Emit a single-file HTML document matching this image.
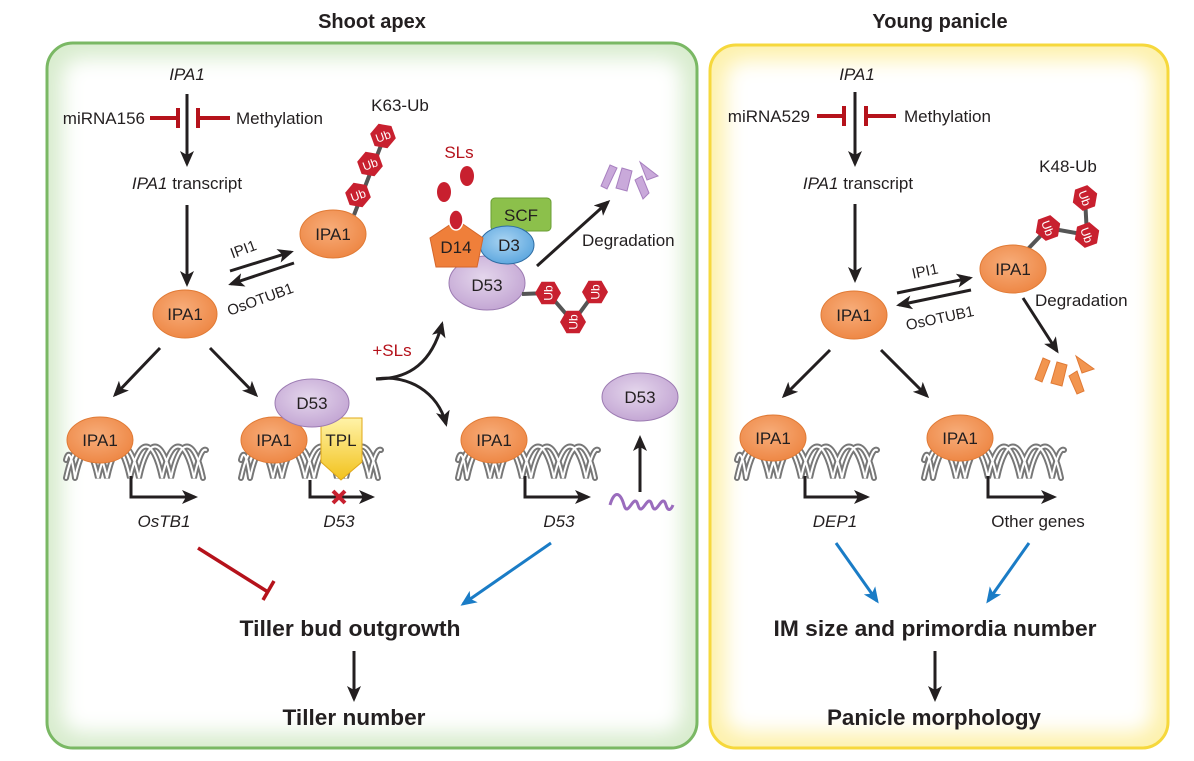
<!DOCTYPE html>
<html><head><meta charset="utf-8"><style>
html,body{margin:0;padding:0;background:#fff;}
svg{display:block;font-family:"Liberation Sans",sans-serif;}
.b{font-weight:bold;}
</style></head><body>
<svg width="1194" height="761" viewBox="0 0 1194 761" xmlns="http://www.w3.org/2000/svg">
<defs>
<filter id="bl" x="-20%" y="-20%" width="140%" height="140%"><feGaussianBlur stdDeviation="10"/></filter>
<clipPath id="cl"><rect x="47" y="43" width="650" height="705" rx="26"/></clipPath>
<clipPath id="cr"><rect x="710" y="45" width="458" height="703" rx="26"/></clipPath>
<radialGradient id="og" cx="45%" cy="40%" r="60%"><stop offset="0%" stop-color="#f7ad7a"/><stop offset="100%" stop-color="#ee8846"/></radialGradient>
<radialGradient id="pg" cx="45%" cy="40%" r="60%"><stop offset="0%" stop-color="#e4d6ec"/><stop offset="100%" stop-color="#c4a7d4"/></radialGradient>
<radialGradient id="bg" cx="45%" cy="40%" r="60%"><stop offset="0%" stop-color="#a9d4f2"/><stop offset="100%" stop-color="#5fa8df"/></radialGradient>
<linearGradient id="tg" x1="0" y1="0" x2="0" y2="1"><stop offset="0" stop-color="#fff3a8"/><stop offset="1" stop-color="#f2c21c"/></linearGradient>
<marker id="ak" markerWidth="16" markerHeight="14" refX="13" refY="7" orient="auto" markerUnits="userSpaceOnUse"><path d="M0,0 L16,7 L0,14 L4,7 Z" fill="#231f20"/></marker>
<marker id="ab" markerWidth="16" markerHeight="14" refX="13" refY="7" orient="auto" markerUnits="userSpaceOnUse"><path d="M0,0 L16,7 L0,14 L4,7 Z" fill="#1a7cc6"/></marker>
<g id="helix" fill="none" stroke-linecap="round">
<g stroke="#777" stroke-width="6">
<path d="M0,18 C9,-24 23,-24 32,18 C41,-24 55,-24 64,18 C73,-24 87,-24 96,18 C105,-24 119,-24 128,18 C133,-5 137,-12 140,-10"/>
<path d="M9,18 C18,-24 32,-24 41,18 C50,-24 64,-24 73,18 C82,-24 96,-24 105,18 C114,-24 128,-24 137,18 M0,0 C2,-8 5,-10 9,18"/>
</g>
<g stroke="#fff" stroke-width="2">
<path d="M0,18 C9,-24 23,-24 32,18 C41,-24 55,-24 64,18 C73,-24 87,-24 96,18 C105,-24 119,-24 128,18 C133,-5 137,-12 140,-10"/>
<path d="M9,18 C18,-24 32,-24 41,18 C50,-24 64,-24 73,18 C82,-24 96,-24 105,18 C114,-24 128,-24 137,18 M0,0 C2,-8 5,-10 9,18"/>
</g>
</g>
<g id="ub"><polygon points="0,-13 11.3,-6.5 11.3,6.5 0,13 -11.3,6.5 -11.3,-6.5" fill="#c8202f"/><text x="0" y="4.5" font-size="12" fill="#fff" text-anchor="middle">Ub</text></g>
</defs>

<text x="372" y="28" class="b" font-size="20" text-anchor="middle" fill="#231f20">Shoot apex</text>
<text x="940" y="28" class="b" font-size="20" text-anchor="middle" fill="#231f20">Young panicle</text>

<g clip-path="url(#cl)">
<rect x="47" y="43" width="650" height="705" fill="#d8ecce"/>
<rect x="62" y="58" width="620" height="675" rx="20" fill="#fff" filter="url(#bl)"/>
</g>
<rect x="47" y="43" width="650" height="705" rx="26" fill="none" stroke="#7ab864" stroke-width="3"/>
<g clip-path="url(#cr)">
<rect x="710" y="45" width="458" height="703" fill="#fdf1ad"/>
<rect x="725" y="60" width="428" height="673" rx="20" fill="#fff" filter="url(#bl)"/>
</g>
<rect x="710" y="45" width="458" height="703" rx="26" fill="none" stroke="#f6d83c" stroke-width="3"/>

<g fill="#231f20" font-size="17">
<text x="187" y="80" font-style="italic" text-anchor="middle">IPA1</text>
<line x1="187" y1="94" x2="187" y2="164" stroke="#231f20" stroke-width="3" marker-end="url(#ak)"/>
<text x="145" y="124" text-anchor="end">miRNA156</text>
<g stroke="#b5121b" stroke-width="4"><line x1="150" y1="118" x2="178" y2="118"/><line x1="178" y1="108" x2="178" y2="128"/><line x1="198" y1="118" x2="230" y2="118"/><line x1="198" y1="108" x2="198" y2="128"/></g>
<text x="236" y="124">Methylation</text>
<text x="187" y="189" text-anchor="middle"><tspan font-style="italic">IPA1</tspan> transcript</text>
<line x1="187" y1="205" x2="187" y2="284" stroke="#231f20" stroke-width="3" marker-end="url(#ak)"/>
<ellipse cx="185" cy="314" rx="32" ry="24" fill="url(#og)" stroke="#e07a35"/>
<text x="185" y="320" text-anchor="middle">IPA1</text>

<text x="400" y="111" text-anchor="middle">K63-Ub</text>
<line x1="354" y1="215" x2="385" y2="135" stroke="#555" stroke-width="4"/>
<use href="#ub" transform="translate(383,136) rotate(-20)"/>
<use href="#ub" transform="translate(370,164) rotate(-20)"/>
<use href="#ub" transform="translate(358,195) rotate(-20)"/>
<ellipse cx="333" cy="234" rx="33" ry="24" fill="url(#og)" stroke="#e07a35"/>
<text x="333" y="240" text-anchor="middle">IPA1</text>
<line x1="230" y1="271" x2="291" y2="252" stroke="#231f20" stroke-width="3" marker-end="url(#ak)"/>
<line x1="294" y1="263" x2="231" y2="284" stroke="#231f20" stroke-width="3" marker-end="url(#ak)"/>
<text x="245" y="254" font-size="15" transform="rotate(-20 245 254)" text-anchor="middle">IPI1</text>
<text x="262" y="304" font-size="15" transform="rotate(-20 262 304)" text-anchor="middle">OsOTUB1</text>

<text x="459" y="158" fill="#b5121b" text-anchor="middle">SLs</text>
<ellipse cx="467" cy="176" rx="7" ry="10" fill="#c8202f"/>
<ellipse cx="444" cy="192" rx="7" ry="10" fill="#c8202f"/>
<rect x="491" y="198" width="60" height="33" rx="4" fill="#8cc04b" stroke="#6a9e34"/>
<text x="521" y="221" text-anchor="middle">SCF</text>
<ellipse cx="487" cy="283" rx="38" ry="27" fill="url(#pg)" stroke="#9c7bb2"/>
<text x="487" y="291" text-anchor="middle">D53</text>
<ellipse cx="507" cy="245" rx="27" ry="19" fill="url(#bg)" stroke="#2f6da3"/>
<text x="509" y="251" text-anchor="middle">D3</text>
<polygon points="457,220 483,238 477,267 436,267 430,238" fill="#ef7f3a" stroke="#d5662a"/>
<ellipse cx="456" cy="220" rx="7" ry="10" fill="#c8202f" stroke="#fff" stroke-width="1.5"/>
<text x="456" y="253" text-anchor="middle">D14</text>
<line x1="537" y1="266" x2="608" y2="202" stroke="#231f20" stroke-width="3" marker-end="url(#ak)"/>
<text x="582" y="246">Degradation</text>
<g fill="#c9a9da" stroke="#a880c0" stroke-width="1">
<polygon points="610,165 617,168 607,189 601,186"/>
<polygon points="622,168 632,171 627,191 616,188"/>
<polygon points="635,180 642,176 649,193 643,199"/>
<polygon points="640,162 658,176 647,180"/>
</g>
<line x1="522" y1="294" x2="548" y2="293" stroke="#555" stroke-width="4"/>
<polyline points="548,293 573,322 595,292" fill="none" stroke="#555" stroke-width="4"/>
<use href="#ub" transform="translate(548,293) rotate(-90)"/>
<use href="#ub" transform="translate(573,322) rotate(-90)"/>
<use href="#ub" transform="translate(595,292) rotate(-90)"/>

<text x="392" y="356" fill="#b5121b" text-anchor="middle">+SLs</text>
<path d="M376,379 C410,379 432,362 442,324" fill="none" stroke="#231f20" stroke-width="3" marker-end="url(#ak)"/>
<path d="M376,379 C408,374 438,392 446,424" fill="none" stroke="#231f20" stroke-width="3" marker-end="url(#ak)"/>

<line x1="160" y1="348" x2="115" y2="395" stroke="#231f20" stroke-width="3" marker-end="url(#ak)"/>
<line x1="210" y1="348" x2="256" y2="395" stroke="#231f20" stroke-width="3" marker-end="url(#ak)"/>

<use href="#helix" transform="translate(66,460)"/>
<ellipse cx="100" cy="440" rx="33" ry="23" fill="url(#og)" stroke="#e07a35"/>
<text x="100" y="446" text-anchor="middle">IPA1</text>
<polyline points="131,476 131,497 195,497" fill="none" stroke="#231f20" stroke-width="3" marker-end="url(#ak)"/>
<text x="164" y="527" font-style="italic" text-anchor="middle">OsTB1</text>

<use href="#helix" transform="translate(241,460)"/>
<ellipse cx="274" cy="440" rx="33" ry="23" fill="url(#og)" stroke="#e07a35"/>
<text x="274" y="446" text-anchor="middle">IPA1</text>
<polygon points="321,418 362,418 362,462 341,480 321,462" fill="url(#tg)" stroke="#e0a81a"/>
<text x="341" y="446" text-anchor="middle">TPL</text>
<ellipse cx="312" cy="403" rx="37" ry="24" fill="url(#pg)" stroke="#9c7bb2"/>
<text x="312" y="409" text-anchor="middle">D53</text>
<polyline points="310,480 310,497 372,497" fill="none" stroke="#231f20" stroke-width="3" marker-end="url(#ak)"/>
<g stroke="#c8202f" stroke-width="4"><line x1="333" y1="491" x2="345" y2="503"/><line x1="345" y1="491" x2="333" y2="503"/></g>
<text x="339" y="527" font-style="italic" text-anchor="middle">D53</text>

<use href="#helix" transform="translate(458,460)"/>
<ellipse cx="494" cy="440" rx="33" ry="23" fill="url(#og)" stroke="#e07a35"/>
<text x="494" y="446" text-anchor="middle">IPA1</text>
<polyline points="525,476 525,497 588,497" fill="none" stroke="#231f20" stroke-width="3" marker-end="url(#ak)"/>
<text x="559" y="527" font-style="italic" text-anchor="middle">D53</text>
<ellipse cx="640" cy="397" rx="38" ry="24" fill="url(#pg)" stroke="#9c7bb2"/>
<text x="640" y="403" text-anchor="middle">D53</text>
<line x1="640" y1="492" x2="640" y2="438" stroke="#231f20" stroke-width="3" marker-end="url(#ak)"/>
<path d="M610,505 C614,491 620,491 624,505 C628,519 634,491 638,505 C642,519 648,491 652,505 C656,519 662,491 666,505 C668,512 671,510 673,505" fill="none" stroke="#9a6cbd" stroke-width="3"/>

<line x1="198" y1="548" x2="268" y2="592" stroke="#b5121b" stroke-width="3.5"/>
<line x1="263" y1="600" x2="274" y2="581" stroke="#b5121b" stroke-width="3.5"/>
<line x1="551" y1="543" x2="463" y2="604" stroke="#1a7cc6" stroke-width="3" marker-end="url(#ab)"/>
<text x="350" y="636" class="b" font-size="22" text-anchor="middle" textLength="221" lengthAdjust="spacingAndGlyphs">Tiller bud outgrowth</text>
<line x1="354" y1="651" x2="354" y2="699" stroke="#231f20" stroke-width="3" marker-end="url(#ak)"/>
<text x="354" y="725" class="b" font-size="22" text-anchor="middle" textLength="143" lengthAdjust="spacingAndGlyphs">Tiller number</text>

<text x="857" y="80" font-style="italic" text-anchor="middle">IPA1</text>
<line x1="855" y1="92" x2="855" y2="164" stroke="#231f20" stroke-width="3" marker-end="url(#ak)"/>
<text x="810" y="122" text-anchor="end">miRNA529</text>
<g stroke="#b5121b" stroke-width="4"><line x1="817" y1="116" x2="844" y2="116"/><line x1="844" y1="106" x2="844" y2="126"/><line x1="866" y1="116" x2="896" y2="116"/><line x1="866" y1="106" x2="866" y2="126"/></g>
<text x="904" y="122">Methylation</text>
<text x="858" y="189" text-anchor="middle"><tspan font-style="italic">IPA1</tspan> transcript</text>
<line x1="855" y1="204" x2="855" y2="280" stroke="#231f20" stroke-width="3" marker-end="url(#ak)"/>
<ellipse cx="854" cy="315" rx="33" ry="24" fill="url(#og)" stroke="#e07a35"/>
<text x="854" y="321" text-anchor="middle">IPA1</text>
<line x1="897" y1="293" x2="970" y2="278" stroke="#231f20" stroke-width="3" marker-end="url(#ak)"/>
<line x1="971" y1="290" x2="899" y2="305" stroke="#231f20" stroke-width="3" marker-end="url(#ak)"/>
<text x="926" y="276" font-size="15" transform="rotate(-12 926 276)" text-anchor="middle">IPI1</text>
<text x="941" y="323" font-size="15" transform="rotate(-12 941 323)" text-anchor="middle">OsOTUB1</text>
<text x="1068" y="172" text-anchor="middle">K48-Ub</text>
<polyline points="1027,250 1048,228 1087,235 1085,198" fill="none" stroke="#555" stroke-width="4"/>
<use href="#ub" transform="translate(1048,228) rotate(70)"/>
<use href="#ub" transform="translate(1087,235) rotate(70)"/>
<use href="#ub" transform="translate(1085,198) rotate(70)"/>
<ellipse cx="1013" cy="269" rx="33" ry="24" fill="url(#og)" stroke="#e07a35"/>
<text x="1013" y="275" text-anchor="middle">IPA1</text>
<text x="1035" y="306">Degradation</text>
<line x1="1023" y1="298" x2="1057" y2="351" stroke="#231f20" stroke-width="3" marker-end="url(#ak)"/>
<g fill="#f2954f" stroke="#e07a35">
<polygon points="1043,358 1050,361 1042,382 1035,379"/>
<polygon points="1057,362 1067,365 1062,386 1051,383"/>
<polygon points="1069,376 1077,371 1084,391 1077,394"/>
<polygon points="1076,356 1094,369 1082,373"/>
</g>

<line x1="830" y1="350" x2="784" y2="396" stroke="#231f20" stroke-width="3" marker-end="url(#ak)"/>
<line x1="881" y1="350" x2="927" y2="396" stroke="#231f20" stroke-width="3" marker-end="url(#ak)"/>
<use href="#helix" transform="translate(737,460)"/>
<ellipse cx="773" cy="438" rx="33" ry="23" fill="url(#og)" stroke="#e07a35"/>
<text x="773" y="444" text-anchor="middle">IPA1</text>
<polyline points="805,476 805,497 867,497" fill="none" stroke="#231f20" stroke-width="3" marker-end="url(#ak)"/>
<text x="835" y="527" font-style="italic" text-anchor="middle">DEP1</text>
<use href="#helix" transform="translate(924,460)"/>
<ellipse cx="960" cy="438" rx="33" ry="23" fill="url(#og)" stroke="#e07a35"/>
<text x="960" y="444" text-anchor="middle">IPA1</text>
<polyline points="988,476 988,497 1054,497" fill="none" stroke="#231f20" stroke-width="3" marker-end="url(#ak)"/>
<text x="1038" y="527" text-anchor="middle">Other genes</text>
<line x1="836" y1="543" x2="877" y2="601" stroke="#1a7cc6" stroke-width="3" marker-end="url(#ab)"/>
<line x1="1029" y1="543" x2="988" y2="601" stroke="#1a7cc6" stroke-width="3" marker-end="url(#ab)"/>
<text x="935" y="636" class="b" font-size="22" text-anchor="middle" textLength="323" lengthAdjust="spacingAndGlyphs">IM size and primordia number</text>
<line x1="935" y1="651" x2="935" y2="699" stroke="#231f20" stroke-width="3" marker-end="url(#ak)"/>
<text x="934" y="725" class="b" font-size="22" text-anchor="middle" textLength="214" lengthAdjust="spacingAndGlyphs">Panicle morphology</text>
</g>
</svg>
</body></html>
